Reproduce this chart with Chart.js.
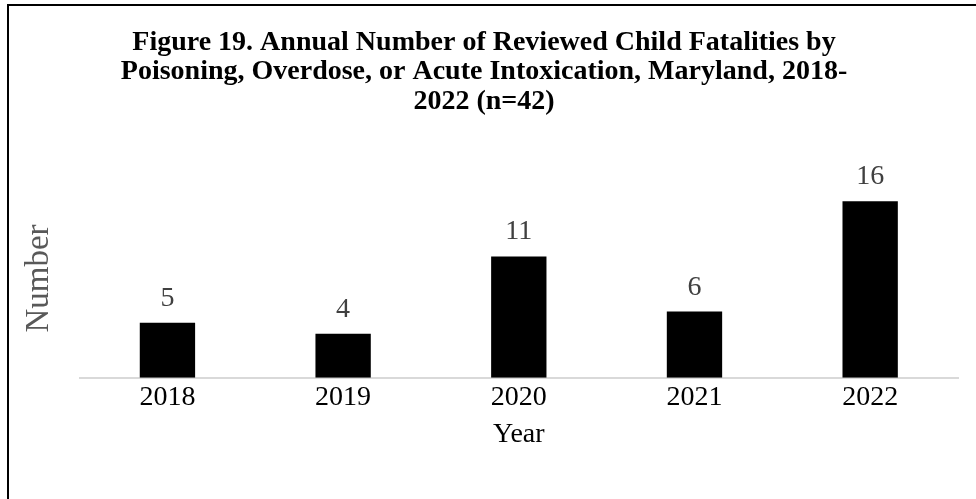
<!DOCTYPE html>
<html>
<head>
<meta charset="utf-8">
<script src="https://cdn.jsdelivr.net/npm/chart.js@4.4.1/dist/chart.umd.min.js"></script>
<style>
  html, body { margin: 0; padding: 0; background: #fff; }
  #wrap { width: 976px; height: 499px; }
</style>
</head>
<body>
<div id="wrap"><canvas id="fatalChart" width="976" height="499"></canvas></div>
<script>
// Reviewed child fatalities by poisoning / overdose, per year
const years = ['2018', '2019', '2020', '2021', '2022'];
const fatalities = [5, 4, 11, 6, 16];
const titleLines = [
  'Figure 19. Annual Number of Reviewed Child Fatalities by',
  'Poisoning, Overdose, or Acute Intoxication, Maryland, 2018-',
  '2022 (n=42)'
];

const serif = '"Liberation Serif", "Times New Roman", serif';

// value labels above each bar
const barValues = {
  id: 'barValues',
  afterDatasetsDraw(chart) {
    const ctx = chart.ctx;
    const meta = chart.getDatasetMeta(0);
    ctx.save();
    ctx.font = '28px ' + serif;
    ctx.fillStyle = '#404040';
    ctx.textAlign = 'center';
    ctx.textBaseline = 'alphabetic';
    meta.data.forEach((bar, i) => {
      ctx.fillText(String(fatalities[i]), bar.x, bar.y - 17);
    });
    ctx.restore();
  }
};

// frame lines along the top and left edge
const frame = {
  id: 'frame',
  beforeDraw(chart) {
    const ctx = chart.ctx;
    ctx.save();
    ctx.strokeStyle = '#000';
    ctx.lineWidth = 2;
    ctx.beginPath();
    ctx.moveTo(8, chart.height);
    ctx.lineTo(8, 5);
    ctx.lineTo(chart.width, 5);
    ctx.stroke();
    ctx.restore();
  }
};

const ctx = document.getElementById('fatalChart').getContext('2d');
const fatalChart = new Chart(ctx, {
  type: 'bar',
  data: {
    labels: years,
    datasets: [{
      data: fatalities,
      backgroundColor: '#000',
      barPercentage: 0.315,
      categoryPercentage: 1
    }]
  },
  options: {
    responsive: false,
    animation: false,
    layout: { padding: { left: 10, right: 18, top: 0, bottom: 48 } },
    scales: {
      x: {
        grid: { display: false, drawTicks: false },
        border: { color: '#d9d9d9', width: 2 },
        ticks: { color: '#000', font: { family: serif, size: 28 }, padding: 3 },
        title: { display: true, text: 'Year', color: '#000', font: { family: serif, size: 28 }, padding: { top: 0, bottom: 0 } }
      },
      y: {
        min: 0,
        max: 18,
        grid: { display: false, drawTicks: false },
        border: { display: false },
        ticks: { display: false },
        title: { display: true, text: 'Number', color: '#595959', font: { family: serif, size: 33 }, padding: { top: 10, bottom: 20 } }
      }
    },
    plugins: {
      legend: { display: false },
      tooltip: { enabled: false },
      title: {
        display: true,
        text: titleLines,
        color: '#000',
        font: { family: serif, size: 28, weight: 'bold', lineHeight: 1.05 },
        padding: { top: 28, bottom: 63 }
      }
    }
  },
  plugins: [barValues, frame]
});
</script>
</body>
</html>
